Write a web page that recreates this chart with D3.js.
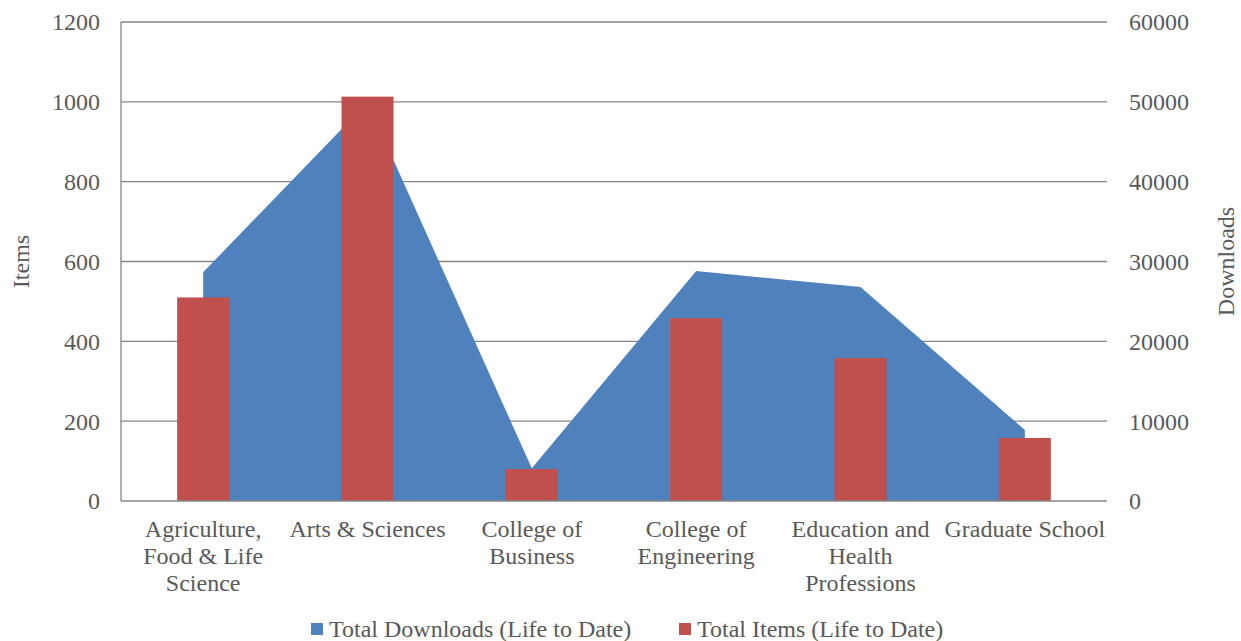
<!DOCTYPE html>
<html>
<head>
<meta charset="utf-8">
<script src="https://cdn.jsdelivr.net/npm/d3@7"></script>
</head>
<body style="margin:0;background:#fff">
<svg id="chart" width="1241" height="641"></svg>
<script>
// data
const categories = [
    ["Agriculture,", "Food & Life", "Science"],
    ["Arts & Sciences"],
    ["College of", "Business"],
    ["College of", "Engineering"],
    ["Education and", "Health", "Professions"],
    ["Graduate School"]
];
const totalItems = [510, 1013, 80, 458, 358, 158];
const totalDownloads = [28650, 49950, 4100, 28800, 26800, 8900];
const itemTicks = [0, 200, 400, 600, 800, 1000, 1200];
const downloadTicks = [0, 10000, 20000, 30000, 40000, 50000, 60000];
const seriesNames = ["Total Downloads (Life to Date)", "Total Items (Life to Date)"];

const blue = "#4F81BD", red = "#C0504D", gridColor = "#868686", textColor = "#595959";
const fontFamily = "'Liberation Serif', 'Times New Roman', serif";
const fontSize = 24;

const margin = { left: 121, right: 134, top: 22, bottom: 140 };
const svg = d3.select("#chart");
const width = +svg.attr("width") - margin.left - margin.right;
const height = +svg.attr("height") - margin.top - margin.bottom;

// small helper so every label gets the same font
function styleText(sel) {
    return sel.style("font-family", fontFamily)
        .style("font-size", fontSize + "px")
        .attr("fill", textColor);
}

const g = svg.append("g").attr("transform", `translate(${margin.left},${margin.top})`);

const keys = d3.range(categories.length);
const x = d3.scaleBand().domain(keys).range([0, width]);
const yItems = d3.scaleLinear().domain([0, 1200]).range([height, 0]);
const yDown = d3.scaleLinear().domain([0, 60000]).range([height, 0]);

// gridlines
g.selectAll(".grid")
    .data(itemTicks.slice(1))
    .enter()
    .append("line")
    .attr("class", "grid")
    .attr("x1", 0)
    .attr("x2", width)
    .attr("y1", d => yItems(d))
    .attr("y2", d => yItems(d))
    .attr("stroke", gridColor)
    .attr("stroke-width", 1.3);

// downloads area, from first category centre to last
const area = d3.area()
    .x((d, i) => x(i) + x.bandwidth() / 2)
    .y0(height)
    .y1(d => yDown(d));

g.append("path")
    .datum(totalDownloads)
    .attr("d", area)
    .attr("fill", blue);

// items bars
const barWidth = 52;
g.selectAll(".bar")
    .data(totalItems)
    .enter()
    .append("rect")
    .attr("class", "bar")
    .attr("x", (d, i) => x(i) + x.bandwidth() / 2 - barWidth / 2)
    .attr("y", d => yItems(d))
    .attr("width", barWidth)
    .attr("height", d => height - yItems(d))
    .attr("fill", red);

// axis lines
g.append("line")
    .attr("x1", 0).attr("x2", 0)
    .attr("y1", 0).attr("y2", height)
    .attr("stroke", gridColor).attr("stroke-width", 1.3);
g.append("line")
    .attr("x1", 0).attr("x2", width)
    .attr("y1", height).attr("y2", height)
    .attr("stroke", gridColor).attr("stroke-width", 1.3);

// left tick labels
g.selectAll(".ylabel")
    .data(itemTicks)
    .enter()
    .append("text")
    .attr("x", -21)
    .attr("y", d => yItems(d))
    .attr("dy", "0.35em")
    .attr("text-anchor", "end")
    .call(styleText)
    .text(d => d);

// right tick labels
g.selectAll(".y2label")
    .data(downloadTicks)
    .enter()
    .append("text")
    .attr("x", width + 22)
    .attr("y", d => yDown(d))
    .attr("dy", "0.35em")
    .attr("text-anchor", "start")
    .call(styleText)
    .text(d => d);

// category labels
const catLabels = g.selectAll(".xlabel")
    .data(categories)
    .enter()
    .append("text")
    .attr("text-anchor", "middle")
    .attr("transform", (d, i) => `translate(${x(i) + x.bandwidth() / 2},${height + 36})`)
    .call(styleText);
catLabels.selectAll("tspan")
    .data(d => d)
    .enter()
    .append("tspan")
    .attr("x", 0)
    .attr("y", (d, i) => i * 27)
    .text(d => d);

// axis titles
svg.append("text")
    .attr("transform", `translate(29,${margin.top + height / 2}) rotate(-90)`)
    .attr("text-anchor", "middle")
    .call(styleText)
    .text("Items");
svg.append("text")
    .attr("transform", `translate(1234,${margin.top + height / 2}) rotate(-90)`)
    .attr("text-anchor", "middle")
    .call(styleText)
    .text("Downloads");

// legend
const legendItems = [
    { name: seriesNames[0], color: blue, x: 311 },
    { name: seriesNames[1], color: red, x: 679 }
];
const legend = svg.selectAll(".legend")
    .data(legendItems)
    .enter()
    .append("g")
    .attr("class", "legend")
    .attr("transform", d => `translate(${d.x},623)`);
legend.append("rect")
    .attr("width", 12)
    .attr("height", 12)
    .attr("fill", d => d.color);
legend.append("text")
    .attr("x", 18)
    .attr("y", 14)
    .call(styleText)
    .text(d => d.name);
</script>
</body>
</html>
